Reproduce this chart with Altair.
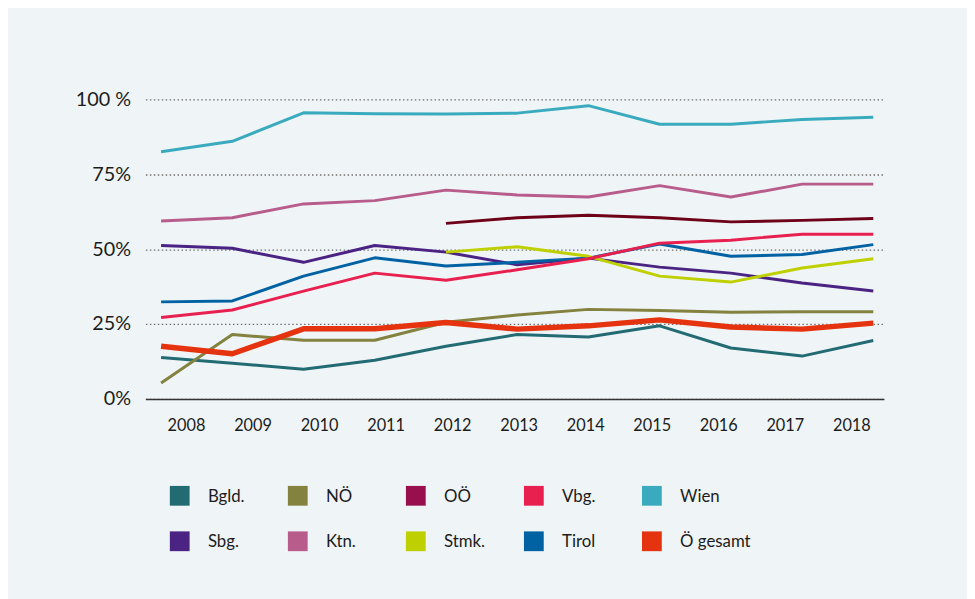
import altair as alt
import pandas as pd

years = list(range(2008, 2019))

wien   = [82.5, 86.0, 95.5, 95.2, 95.1, 95.4, 97.9, 91.7, 91.7, 93.3, 94.0]
ktn    = [59.4, 60.5, 65.1, 66.2, 69.7, 68.1, 67.4, 71.2, 67.4, 71.7, 71.7]
ooe    = [None, None, None, None, 58.6, 60.5, 61.3, 60.5, 59.1, 59.6, 60.2]
sbg    = [51.2, 50.3, 45.6, 51.2, 49.0, 44.8, 47.0, 44.0, 42.0, 38.7, 36.0]
tirol  = [32.4, 32.7, 41.0, 47.1, 44.4, 45.6, 47.0, 51.7, 47.6, 48.2, 51.5]
bgld   = [13.8, 11.9, 9.9, 12.9, 17.6, 21.5, 20.7, 24.4, 17.0, 14.3, 19.5]
noe    = [5.3, 21.5, 19.6, 19.6, 25.6, 28.0, 29.9, 29.5, 28.9, 29.1, 29.1]
stmk   = [None, None, None, None, 49.0, 50.8, 47.6, 41.0, 39.0, 43.7, 46.8]
vbg    = [27.2, 29.7, 36.0, 42.0, 39.6, 43.1, 46.8, 52.0, 53.0, 55.0, 55.0]
gesamt = [17.6, 15.1, 23.4, 23.4, 25.5, 23.3, 24.4, 26.4, 24.0, 23.3, 25.3]

series_names = ["Wien", "Ktn.", "OÖ", "Sbg.", "Tirol", "Bgld.", "NÖ", "Stmk.", "Vbg."]
series_values = [wien, ktn, ooe, sbg, tirol, bgld, noe, stmk, vbg]
line_colors = ["#3AABBE", "#B85C8C", "#6D0018", "#4A2383", "#0062A3",
               "#226B73", "#84823F", "#BFD000", "#E8204F"]
total_name = "Ö gesamt"
total_color = "#E5330F"

legend_names = ["Bgld.", "NÖ", "OÖ", "Vbg.", "Wien",
                "Sbg.", "Ktn.", "Stmk.", "Tirol", "Ö gesamt"]
legend_colors = ["#226B73", "#84823F", "#990F4E", "#E8204F", "#3AABBE",
                 "#4A2383", "#B85C8C", "#BFD000", "#0062A3", "#E5330F"]

rows = []
for k, (name, vals) in enumerate(zip(series_names, series_values)):
    for yr, v in zip(years, vals):
        if v is not None:
            rows.append({"Jahr": yr, "Wert": v, "Land": name, "ord": k})
df = pd.DataFrame(rows)
df_total = pd.DataFrame({"Jahr": years, "Wert": gesamt, "Land": total_name})
df_years = pd.DataFrame({"Jahr": years})
df_leg = pd.DataFrame({
    "name": legend_names,
    "col": [i % 5 for i in range(len(legend_names))],
    "row": [i // 5 for i in range(len(legend_names))],
})

FONT = "Lato"
W, H = 747, 303

x_line = alt.Scale(domain=[2007.78, 2018.15], nice=False, zero=False)
y_scale = alt.Scale(domain=[0, 100], nice=False)

y_axis = alt.Axis(values=[0, 25, 50, 75, 100],
                  labelExpr="datum.value == 100 ? '100 %' : datum.value + '%'",
                  domain=False, ticks=False, labelPadding=15,
                  labelFontSize=20, labelColor="#1c1c1c", labelFont=FONT,
                  grid=True, gridDash=[1.5, 2.5], gridColor="#6f6f6f", gridWidth=1.3,
                  title=None)

lines = alt.Chart(df).mark_line(strokeWidth=3, strokeJoin="round").encode(
    x=alt.X("Jahr:Q", scale=x_line, axis=None),
    y=alt.Y("Wert:Q", scale=y_scale, axis=y_axis),
    color=alt.Color("Land:N", scale=alt.Scale(domain=series_names, range=line_colors), legend=None),
    order=alt.Order("ord:Q"),
    detail="Land:N",
)

total = alt.Chart(df_total).mark_line(strokeWidth=5.5, strokeJoin="round", color=total_color).encode(
    x=alt.X("Jahr:Q", scale=x_line, axis=None),
    y=alt.Y("Wert:Q", scale=y_scale, axis=None),
)

x_lab = alt.Scale(domain=[2007.39, 2018.49], nice=False, zero=False)
xaxis_layer = alt.Chart(df_years).mark_point(opacity=0).encode(
    x=alt.X("Jahr:Q", scale=x_lab,
            axis=alt.Axis(orient="bottom", values=years, format="d", ticks=False,
                          domain=True, domainColor="#333333", domainWidth=1.6,
                          labelFontSize=16.5, labelColor="#1c1c1c", labelFont=FONT,
                          labelPadding=19, grid=False, title=None)),
    y=alt.Y("Jahr:Q", scale=alt.Scale(domain=[0, 1]), axis=None),
)

leg_x = alt.Scale(domain=[-0.2906, 5.966], nice=False, zero=False)
leg_y = alt.Scale(domain=[-2.13, -8.717], nice=False, zero=False)

leg_sq = alt.Chart(df_leg).mark_square(size=400, opacity=1).encode(
    x=alt.X("col:Q", scale=leg_x, axis=None),
    y=alt.Y("row:Q", scale=leg_y, axis=None),
    color=alt.Color("name:N", scale=alt.Scale(domain=legend_names, range=legend_colors), legend=None),
)
leg_tx = alt.Chart(df_leg).mark_text(align="left", baseline="middle", dx=28.5, dy=1,
                                     fontSize=17, font=FONT, color="#1c1c1c").encode(
    x=alt.X("col:Q", scale=leg_x, axis=None),
    y=alt.Y("row:Q", scale=leg_y, axis=None),
    text="name:N",
)

chart = alt.layer(lines, total, xaxis_layer, leg_sq, leg_tx).resolve_scale(
    x="independent", y="independent", color="independent"
).properties(
    width=W, height=H,
    background="#EFF4F7",
    padding={"left": 139, "top": 89, "right": 84, "bottom": 203},
    autosize=alt.AutoSizeParams(type="none"),
).configure_view(stroke=None)

chart.save("out.html", embed_options={"renderer": "svg", "actions": False})
